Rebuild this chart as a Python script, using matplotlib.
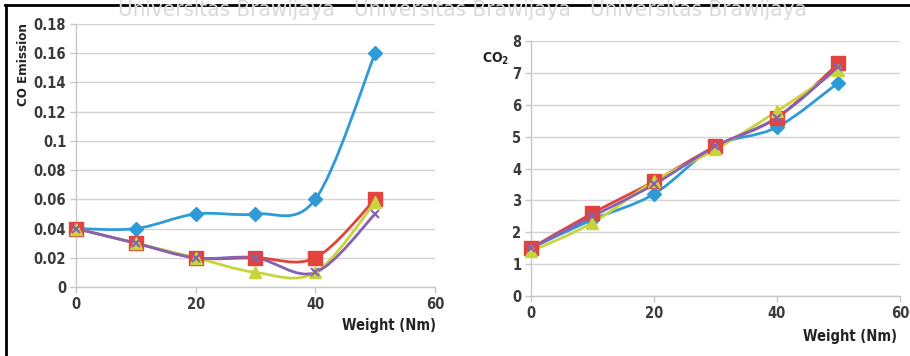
"""
CO and CO2 emission vs weight: two Excel-style smoothed line charts side by side.
"""

import matplotlib
matplotlib.use('Agg')
import matplotlib.pyplot as plt
from matplotlib.path import Path
from matplotlib.patches import PathPatch
from matplotlib.lines import Line2D
from matplotlib import font_manager
import numpy as np

plt.rcParams['font.family'] = ['DejaVu Sans']
plt.rcParams['font.stretch'] = 'condensed'

# --- data ---
weight = [0, 10, 20, 30, 40, 50]

co_blue = [0.04, 0.04, 0.05, 0.05, 0.06, 0.16]
co_red = [0.04, 0.03, 0.02, 0.02, 0.02, 0.06]
co_yellow = [0.04, 0.03, 0.02, 0.01, 0.01, 0.058]
co_purple = [0.04, 0.03, 0.02, 0.02, 0.01, 0.05]

co2_blue = [1.5, 2.4, 3.2, 4.7, 5.3, 6.7]
co2_red = [1.5, 2.6, 3.6, 4.7, 5.6, 7.3]
co2_yellow = [1.4, 2.3, 3.6, 4.6, 5.8, 7.1]
co2_purple = [1.5, 2.5, 3.5, 4.7, 5.6, 7.2]

co_ticks = [0, 0.02, 0.04, 0.06, 0.08, 0.1, 0.12, 0.14, 0.16, 0.18]
co_tick_labels = ['0', '0.02', '0.04', '0.06', '0.08', '0.1', '0.12', '0.14', '0.16', '0.18']
co2_ticks = [0, 1, 2, 3, 4, 5, 6, 7, 8]
x_ticks = [0, 20, 40, 60]

BLUE = '#2f9bd6'
RED = '#e0443c'
YELLOW = '#c9d43c'
PURPLE = '#8462b4'
GRID = '#d4d4d4'
TXT = '#3a3a3a'

series_style = [
    (BLUE, 'D', 7),
    (RED, 's', 10),
    (YELLOW, '^', 9),
    (PURPLE, 'x', 6),
]


def smooth_path(x, y):
    # Catmull-Rom style bezier through the points, like Excel's smoothed line
    pts = np.column_stack([x, y]).astype(float)
    verts = [pts[0]]
    codes = [Path.MOVETO]
    n = len(pts)
    for i in range(n - 1):
        p0 = pts[i - 1] if i > 0 else pts[i]
        p1 = pts[i]
        p2 = pts[i + 1]
        p3 = pts[i + 2] if i + 2 < n else pts[i + 1]
        verts += [p1 + (p2 - p0) / 6, p2 - (p3 - p1) / 6, p2]
        codes += [Path.CURVE4] * 3
    return Path(verts, codes)


def style_axes(ax, xmax, ymax):
    ax.set_xlim(0, xmax)
    ax.set_ylim(0, ymax)
    ax.set_xticks(x_ticks)
    for s in ['top', 'right']:
        ax.spines[s].set_visible(False)
    for s in ['left', 'bottom']:
        ax.spines[s].set_color('#c8c8c8')
        ax.spines[s].set_linewidth(1.0)
    ax.grid(axis='y', color=GRID, linewidth=1.0)
    ax.set_axisbelow(True)
    ax.tick_params(colors='#c8c8c8', labelcolor=TXT, labelsize=10.5, length=4, width=1)
    ax.tick_params(axis='x', pad=3)
    ax.tick_params(axis='y', pad=3)


def bold_ticks(ax):
    for lab in ax.get_xticklabels() + ax.get_yticklabels():
        lab.set_fontweight('bold')


def draw_series(ax, ys_list):
    for ys, (col, mk, ms) in zip(ys_list, series_style):
        ax.add_patch(PathPatch(smooth_path(weight, ys), facecolor='none', edgecolor=col,
                               linewidth=2.0, zorder=3))
        if mk == 'x':
            ax.plot(weight, ys, linestyle='none', marker=mk, color=col, markersize=ms,
                    markeredgewidth=1.5, zorder=4, clip_on=False)
        else:
            ax.plot(weight, ys, linestyle='none', marker=mk, color=col, markersize=ms,
                    markeredgecolor=col, zorder=4, clip_on=False)


fig = plt.figure(figsize=(9.1, 3.56), dpi=100)

# faint scanned watermark and page borders
fig.text(0.13, 1.0, 'Universitas Brawijaya   Universitas Brawijaya   Universitas Brawijaya',
         fontsize=16, color='#dadada', ha='left', va='top')
fig.add_artist(Line2D([0.006, 1.0], [0.986, 0.986], color='black', linewidth=2.0))
fig.add_artist(Line2D([0.007, 0.007], [0.0, 0.986], color='black', linewidth=2.0))

# left: CO emission
ax1 = fig.add_axes([0.0835, 0.1938, 0.3945, 0.7388])
draw_series(ax1, [co_blue, co_red, co_yellow, co_purple])
style_axes(ax1, 60, 0.18)
ax1.set_yticks(co_ticks)
ax1.set_yticklabels(co_tick_labels)
bold_ticks(ax1)
fig.text(0.026, 0.935, 'CO Emission', rotation=90, ha='center', va='top',
         fontsize=9.5, fontweight='bold', color='#222222')
fig.text(0.479, 0.087, 'Weight (Nm)', ha='right', va='center',
         fontsize=10.5, fontweight='bold', color='#222222')

# right: CO2
ax2 = fig.add_axes([0.5835, 0.1685, 0.4055, 0.716])
draw_series(ax2, [co2_blue, co2_red, co2_yellow, co2_purple])
style_axes(ax2, 60, 8)
ax2.set_yticks(co2_ticks)
bold_ticks(ax2)
fig.text(0.545, 0.835, 'CO$_\\mathbf{2}$', ha='center', va='center',
         fontsize=10, fontweight='bold', color='#222222')
fig.text(0.986, 0.055, 'Weight (Nm)', ha='right', va='center',
         fontsize=10.5, fontweight='bold', color='#222222')

fig.savefig('out.png', dpi=100)
